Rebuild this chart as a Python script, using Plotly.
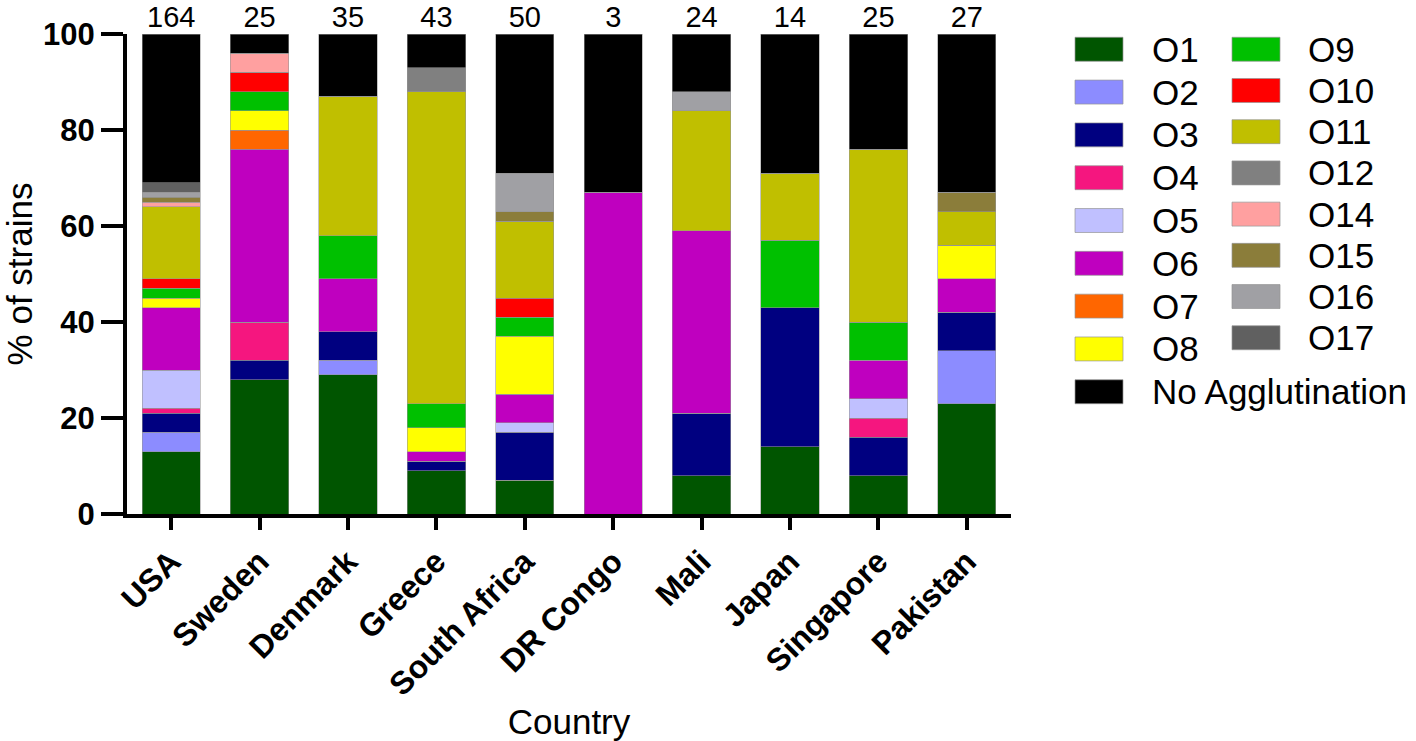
import plotly.graph_objects as go

countries = ["USA", "Sweden", "Denmark", "Greece", "South Africa", "DR Congo",
             "Mali", "Japan", "Singapore", "Pakistan"]
n_strains = ["164", "25", "35", "43", "50", "3", "24", "14", "25", "27"]

serotypes = ["O1", "O2", "O3", "O4", "O5", "O6", "O7", "O8", "O9", "O10",
             "O11", "O12", "O14", "O15", "O16", "O17", "No Agglutination"]
colors = ["#005500", "#8c8cff", "#000080", "#f5167f", "#c0c0ff", "#bf00bf",
          "#ff6600", "#ffff00", "#00c000", "#ff0000", "#c0bf00", "#808080",
          "#ffa0a0", "#8b7d3a", "#a0a0a4", "#606060", "#000000"]

#             USA Swe Den Gre SAf DRC Mali Jap Sin Pak
O1  = [13, 28, 29,  9,  7,  0,  8, 14,  8, 23]
O2  = [ 4,  0,  3,  0,  0,  0,  0,  0,  0, 11]
O3  = [ 4,  4,  6,  2, 10,  0, 13, 29,  8,  8]
O4  = [ 1,  8,  0,  0,  0,  0,  0,  0,  4,  0]
O5  = [ 8,  0,  0,  0,  2,  0,  0,  0,  4,  0]
O6  = [13, 36, 11,  2,  6, 67, 38,  0,  8,  7]
O7  = [ 0,  4,  0,  0,  0,  0,  0,  0,  0,  0]
O8  = [ 2,  4,  0,  5, 12,  0,  0,  0,  0,  7]
O9  = [ 2,  4,  9,  5,  4,  0,  0, 14,  8,  0]
O10 = [ 2,  4,  0,  0,  4,  0,  0,  0,  0,  0]
O11 = [15,  0, 29, 65, 16,  0, 25, 14, 36,  7]
O12 = [ 0,  0,  0,  5,  0,  0,  0,  0,  0,  0]
O14 = [ 1,  4,  0,  0,  0,  0,  0,  0,  0,  0]
O15 = [ 1,  0,  0,  0,  2,  0,  0,  0,  0,  4]
O16 = [ 1,  0,  0,  0,  8,  0,  4,  0,  0,  0]
O17 = [ 2,  0,  0,  0,  0,  0,  0,  0,  0,  0]
NoAgg = [31, 4, 13,  7, 29, 33, 12, 29, 24, 33]

series = [O1, O2, O3, O4, O5, O6, O7, O8, O9, O10, O11, O12, O14, O15, O16, O17, NoAgg]

FONT = "Liberation Sans, Arial, sans-serif"

fig = go.Figure()
for name, col, vals in zip(serotypes, colors, series):
    fig.add_trace(go.Bar(
        x=countries, y=vals, name=name, width=0.66,
        marker=dict(color=col, line=dict(color="rgba(150,150,150,0.7)", width=0.8)),
        showlegend=False,
    ))

# sample size labels above the bars
fig.add_trace(go.Scatter(
    x=countries, y=[100] * len(countries), text=n_strains, mode="text",
    textposition="top center", textfont=dict(size=29, color="black", family=FONT),
    showlegend=False, cliponaxis=False, hoverinfo="skip",
))

# manual two-column legend (paper coordinates)
L, R, T, B = 127, 1011, 33.5, 514.5
W, H = R - L, B - T


def px_x(p):
    return (p - L) / W


def px_y(p):
    return (B - p) / H


col1 = [0, 1, 2, 3, 4, 5, 6, 7, 16]
col2 = [8, 9, 10, 11, 12, 13, 14, 15]
shapes = []
annotations = []
for ci, (idxs, sx, tx, y0, step) in enumerate([
        (col1, 1075, 1150, 48.8, 42.9),
        (col2, 1232, 1306, 48.8, 41.3)]):
    for k, i in enumerate(idxs):
        cy = y0 + k * step
        shapes.append(dict(
            type="rect", xref="paper", yref="paper",
            x0=px_x(sx), x1=px_x(sx + 48), y0=px_y(cy + 12), y1=px_y(cy - 12),
            fillcolor=colors[i], line=dict(color="rgba(150,150,150,0.7)", width=1),
        ))
        annotations.append(dict(
            xref="paper", yref="paper", x=px_x(tx), y=px_y(cy),
            text=serotypes[i], showarrow=False, xanchor="left", yanchor="middle",
            font=dict(size=35, color="black", family=FONT),
        ))

fig.update_layout(
    barmode="stack",
    width=1416, height=741,
    margin=dict(l=L, r=1416 - R, t=T, b=741 - B, autoexpand=False),
    plot_bgcolor="white", paper_bgcolor="white",
    font=dict(family=FONT, color="black"),
    shapes=shapes, annotations=annotations,
    xaxis=dict(
        range=[-0.5, 9.5], showline=True, linecolor="black", linewidth=4,
        ticks="outside", ticklen=12, tickwidth=3.5, tickcolor="black",
        tickangle=-45, tickfont=dict(size=32, family=FONT, weight="bold"),
        showgrid=False, zeroline=False,
        title=dict(text="Country", font=dict(size=35, family=FONT), standoff=10),
        automargin=False,
    ),
    yaxis=dict(
        range=[0, 100], tickvals=[0, 20, 40, 60, 80, 100],
        showline=True, linecolor="black", linewidth=4,
        ticks="outside", ticklen=22, tickwidth=3.5, tickcolor="black",
        tickfont=dict(size=31, family=FONT, weight="bold"),
        showgrid=False, zeroline=False,
        title=dict(text="% of strains", font=dict(size=35, family=FONT), standoff=12),
        automargin=False,
    ),
    showlegend=False,
)

fig.write_html(
    "out.html",
    config={"displayModeBar": False},
    post_script="document.body.style.margin='0';document.body.style.overflow='hidden';",
)
